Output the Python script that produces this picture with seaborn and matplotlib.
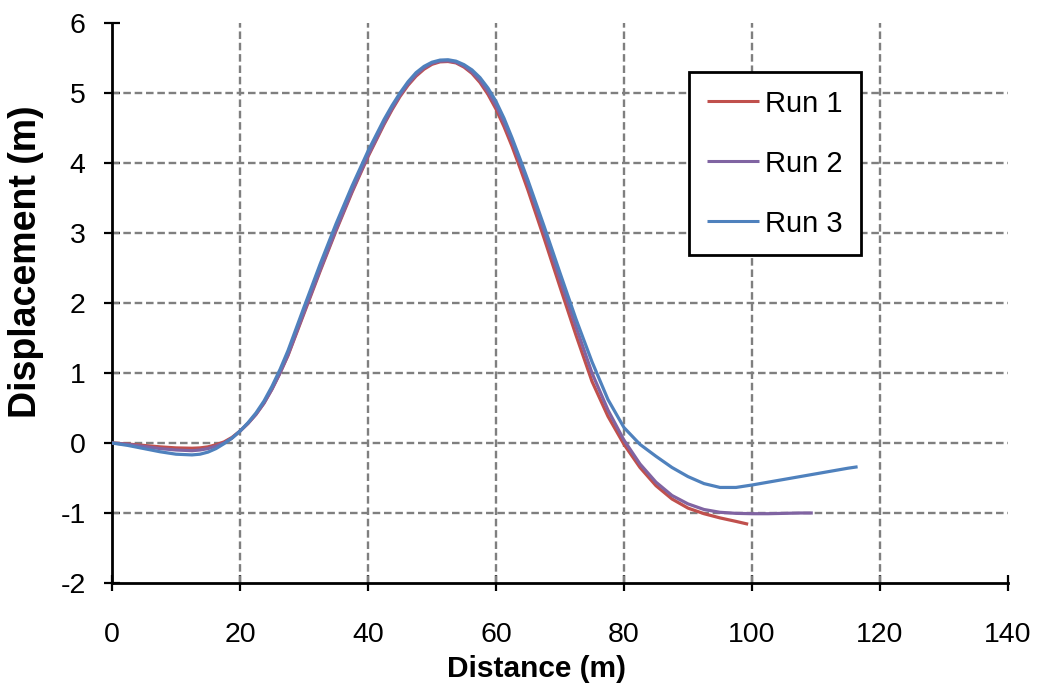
import matplotlib
matplotlib.use("Agg")
import matplotlib.pyplot as plt
import numpy as np
import pandas as pd
import seaborn as sns

# Displacement profiles along the slope for three runs
run1_x = [0, 2.5, 5, 7.5, 10, 12.5, 13.75, 15, 16.25, 17.5, 18.75, 20, 21.25,
          22.5, 23.75, 25, 26.25, 27.5, 30, 32.5, 35, 37.5, 40, 42.5, 43.75,
          45, 46.25, 47.5, 48.75, 50, 51.25, 52.5, 53.75, 55, 56.25, 57.5,
          58.75, 60, 61.25, 62.5, 63.75, 65, 67.5, 70, 72.5, 75, 77.5, 80,
          82.5, 85, 87.5, 90, 92.5, 95, 97.5, 99.4]
run1_y = [0, -0.015, -0.035, -0.055, -0.07, -0.075, -0.07, -0.055, -0.025,
          0.015, 0.08, 0.17, 0.28, 0.41, 0.57, 0.77, 1.0, 1.25, 1.85, 2.45,
          3.03, 3.58, 4.09, 4.55, 4.76, 4.95, 5.11, 5.24, 5.34, 5.41, 5.445,
          5.45, 5.43, 5.37, 5.28, 5.15, 4.98, 4.77, 4.52, 4.24, 3.93, 3.61,
          2.93, 2.23, 1.54, 0.88, 0.38, -0.02, -0.35, -0.61, -0.8, -0.93,
          -1.01, -1.07, -1.12, -1.16]

run2_x = [0, 2.5, 5, 7.5, 10, 12.5, 13.75, 15, 16.25, 17.5, 18.75, 20, 21.25,
          22.5, 23.75, 25, 26.25, 27.5, 30, 32.5, 35, 37.5, 40, 42.5, 43.75,
          45, 46.25, 47.5, 48.75, 50, 51.25, 52.5, 53.75, 55, 56.25, 57.5,
          58.75, 60, 61.25, 62.5, 63.75, 65, 67.5, 70, 72.5, 75, 77.5, 80,
          82.5, 85, 87.5, 90, 92.5, 95, 97.5, 100, 102.5, 105, 107.5, 109.5]
run2_y = [0, -0.02, -0.05, -0.08, -0.1, -0.11, -0.1, -0.08, -0.045, 0.0,
          0.07, 0.17, 0.28, 0.41, 0.57, 0.77, 1.0, 1.26, 1.87, 2.47, 3.05,
          3.6, 4.11, 4.57, 4.78, 4.97, 5.13, 5.26, 5.36, 5.425, 5.455, 5.46,
          5.44, 5.385, 5.3, 5.18, 5.02, 4.82, 4.58, 4.31, 4.01, 3.7, 3.03,
          2.34, 1.66, 1.0, 0.47, 0.04, -0.3, -0.56, -0.75, -0.87, -0.95,
          -0.99, -1.005, -1.01, -1.01, -1.005, -1.0, -1.0]

run3_x = [0, 2.5, 5, 7.5, 10, 12.5, 13.75, 15, 16.25, 17.5, 18.75, 20, 21.25,
          22.5, 23.75, 25, 26.25, 27.5, 30, 32.5, 35, 37.5, 40, 42.5, 43.75,
          45, 46.25, 47.5, 48.75, 50, 51.25, 52.5, 53.75, 55, 56.25, 57.5,
          58.75, 60, 61.25, 62.5, 63.75, 65, 67.5, 70, 72.5, 75, 77.5, 80,
          82.5, 85, 87.5, 90, 92.5, 95, 97.5, 100, 102.5, 105, 107.5, 110,
          112.5, 115, 116.5]
run3_y = [0, -0.035, -0.08, -0.125, -0.16, -0.17, -0.16, -0.13, -0.08, -0.01,
          0.07, 0.17, 0.29, 0.43, 0.6, 0.81, 1.05, 1.32, 1.94, 2.55, 3.13,
          3.67, 4.17, 4.62, 4.82, 5.0, 5.16, 5.29, 5.38, 5.44, 5.47, 5.475,
          5.455, 5.405, 5.33, 5.22, 5.07, 4.88, 4.64, 4.36, 4.06, 3.75, 3.1,
          2.43, 1.77, 1.16, 0.62, 0.22, -0.02, -0.19, -0.35, -0.48, -0.58,
          -0.635, -0.635, -0.6, -0.56, -0.52, -0.48, -0.44, -0.4, -0.36, -0.34]

run_names = ["Run 1", "Run 2", "Run 3"]
run_colors = ["#C0504D", "#8064A2", "#4F81BD"]

x_ticks = [0, 20, 40, 60, 80, 100, 120, 140]
y_ticks = [-2, -1, 0, 1, 2, 3, 4, 5, 6]

frames = []
for name, xs, ys in zip(run_names, [run1_x, run2_x, run3_x],
                        [run1_y, run2_y, run3_y]):
    frames.append(pd.DataFrame({"Distance": xs, "Displacement": ys,
                                "Run": name}))
df = pd.concat(frames, ignore_index=True)

sns.set_theme(style="white")
plt.rcParams["font.family"] = ["Liberation Sans", "DejaVu Sans"]
plt.rcParams["text.color"] = "black"
plt.rcParams["axes.labelcolor"] = "black"
plt.rcParams["lines.solid_joinstyle"] = "round"
plt.rcParams["lines.solid_capstyle"] = "butt"

fig = plt.figure(figsize=(10.39, 6.91), dpi=100)
ax = fig.add_axes([112 / 1039, 1 - 583 / 691, 896 / 1039, 560 / 691])

sns.lineplot(data=df, x="Distance", y="Displacement", hue="Run",
             palette=dict(zip(run_names, run_colors)), hue_order=run_names,
             estimator=None, sort=False, linewidth=2.3, ax=ax, zorder=3)

ax.set_xlim(0, 140)
ax.set_ylim(-2, 6)
ax.set_xticks(x_ticks)
ax.set_yticks(y_ticks)
ax.set_xticklabels([str(v) for v in x_ticks])
ax.set_yticklabels([str(v) for v in y_ticks])

# dashed grey grid on interior ticks only
for xv in x_ticks[1:-1]:
    ax.axvline(xv, color="#7f7f7f", lw=1.7, ls=(0, (3.2, 1.6)), zorder=1)
for yv in y_ticks[1:-1]:
    ax.axhline(yv, color="#7f7f7f", lw=1.7, ls=(0, (3.2, 1.6)), zorder=1)

for side in ["top", "right"]:
    ax.spines[side].set_visible(False)
for side in ["left", "bottom"]:
    ax.spines[side].set_color("black")
    ax.spines[side].set_linewidth(2.0)

ax.tick_params(axis="both", which="major", bottom=True, left=True,
               direction="inout", length=12, width=1.6, color="black",
               labelsize=20.5, labelcolor="black")
ax.tick_params(axis="x", pad=22)
ax.tick_params(axis="y", pad=13)

ax.set_xlabel("Distance (m)", fontsize=21.5, fontweight="bold",
              color="black")
ax.xaxis.set_label_coords(0.474, -0.1286)
ax.set_ylabel("Displacement (m)", fontsize=27, fontweight="bold",
              color="black")
ax.yaxis.set_label_coords(-0.076, 0.573)

leg = ax.legend(loc="upper left", bbox_to_anchor=(0.644, 0.9125),
                fontsize=21, frameon=True, fancybox=False, shadow=False,
                handlelength=1.8, handletextpad=0.22, labelspacing=1.1,
                borderpad=0.6, borderaxespad=0)
leg.get_frame().set_edgecolor("black")
leg.get_frame().set_linewidth(2.0)
leg.get_frame().set_alpha(1)
for line in leg.get_lines():
    line.set_linewidth(2.2)
for txt in leg.get_texts():
    txt.set_color("black")

fig.savefig("out.png", dpi=100, facecolor="white")
